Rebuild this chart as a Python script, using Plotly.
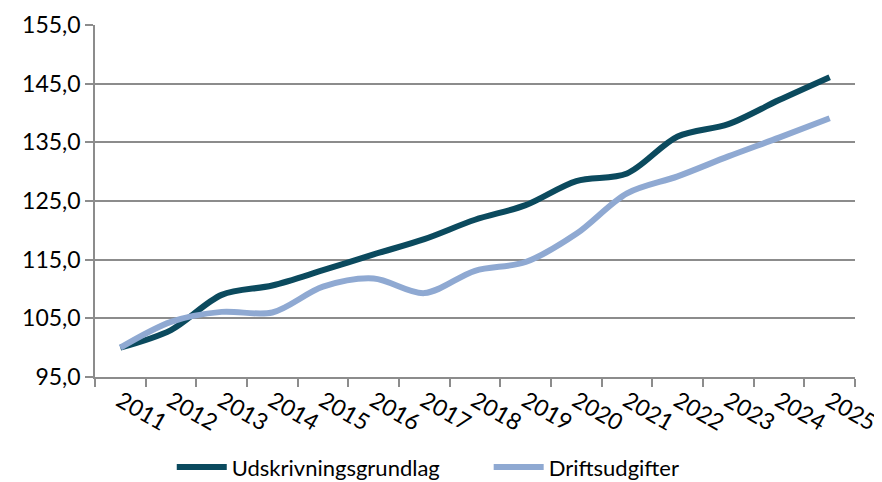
import plotly.graph_objects as go

years = ["2011", "2012", "2013", "2014", "2015", "2016", "2017", "2018",
         "2019", "2020", "2021", "2022", "2023", "2024", "2025"]
udskrivningsgrundlag = [100.0, 103.0, 109.0, 110.6, 113.2, 115.9, 118.5, 121.8,
                        124.3, 128.4, 129.7, 136.0, 138.1, 142.2, 146.1]
driftsudgifter = [100.0, 104.4, 106.1, 106.0, 110.4, 111.8, 109.3, 113.1,
                  114.6, 119.4, 126.3, 129.2, 132.6, 135.8, 139.1]
y_ticks = [95, 105, 115, 125, 135, 145, 155]

FONT = "Lato"
FS = 23
LFS = 22
GRID = "#8c8c8c"

fig = go.Figure()
fig.add_trace(go.Scatter(x=years, y=udskrivningsgrundlag, name="Udskrivningsgrundlag",
                         mode="lines", legend="legend",
                         line=dict(color="#0b4a5e", width=6, shape="spline", smoothing=0.9)))
fig.add_trace(go.Scatter(x=years, y=driftsudgifter, name="Driftsudgifter",
                         mode="lines", legend="legend2",
                         line=dict(color="#8fa9d2", width=6, shape="spline", smoothing=0.9)))

leg_common = dict(orientation="h", yanchor="middle", y=-0.256, xanchor="left",
                  font=dict(family=FONT, size=LFS, color="#000000"),
                  bgcolor="rgba(0,0,0,0)", itemwidth=50)

fig.update_layout(
    width=874, height=474,
    margin=dict(l=87, r=27, t=17, b=105, autoexpand=False),
    paper_bgcolor="white", plot_bgcolor="white",
    separators=",.",
    font=dict(family=FONT, size=FS, color="#000000"),
    showlegend=True,
    legend=dict(x=0.101, **leg_common),
    legend2=dict(x=0.518, **leg_common),
    xaxis=dict(type="category", range=[-0.5, 14.5], tickson="boundaries", automargin=False,
               showgrid=False, showline=True, linecolor=GRID, linewidth=1.5,
               ticks="outside", ticklen=8, tickcolor=GRID, tickwidth=1.5,
               tickangle=30, tickfont=dict(family=FONT, size=FS, color="#000000")),
    yaxis=dict(range=[95, 155], tickvals=y_ticks, tickformat=".1f", automargin=False,
               showgrid=True, gridcolor=GRID, gridwidth=1.5,
               showline=True, linecolor=GRID, linewidth=1.5,
               ticks="outside", ticklen=8, tickcolor=GRID, tickwidth=1.5,
               zeroline=False, tickfont=dict(family=FONT, size=FS, color="#000000")),
)

fig.write_html("out.html")
